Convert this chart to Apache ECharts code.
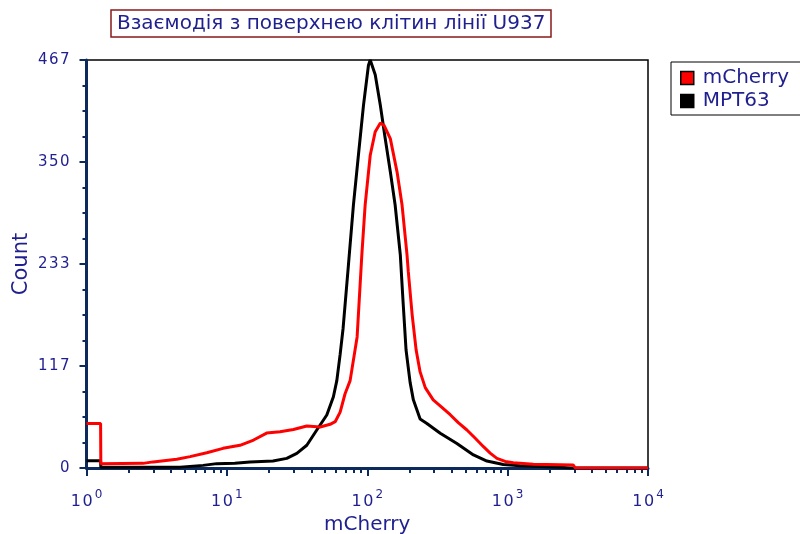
<!DOCTYPE html>
<html>
<head>
<meta charset="utf-8">
<script src="https://cdn.jsdelivr.net/npm/echarts@6/dist/echarts.min.js"></script>
<style>
  html, body { margin: 0; padding: 0; background: #fff; }
  #chart { width: 800px; height: 534px; }
</style>
</head>
<body>
<div id="chart"></div>
<script>
// Fluorescence histogram: channel values (mCherry intensity) and event counts
const titleText = 'Взаємодія з поверхнею клітин лінії U937';
const seriesNames = ['mCherry', 'MPT63'];

const mCherryX = [1, 1.26, 1.265, 2.53, 2.98, 4.40, 5.47, 7.19, 9.40, 12.4, 15.5, 19.2, 23.9, 29.8, 37.1, 46.2, 54.4, 59.1, 64.1, 69.5, 75.5, 84.7, 91.5, 96.6, 105, 114, 124, 132, 146, 163, 177, 192, 196, 209, 223, 238, 259, 295, 337, 390, 445, 513, 588, 673, 751, 839, 961, 1097, 1522, 2936, 3034, 10000];
const mCherryY = [51, 51, 5, 5.3, 7, 10, 13, 17.5, 22.5, 26, 32, 40, 41.5, 44, 48, 47, 50, 53, 64, 85, 100, 150, 244, 301, 358, 385, 395, 392, 377, 339, 301, 244, 225, 175, 135, 110, 92, 78, 70, 61, 52, 43.5, 34, 24.4, 17, 11, 7.5, 6, 4.2, 3.4, 0, 0];

const mpt63X = [1, 1.26, 1.265, 4.64, 6.77, 8.47, 11.4, 14.6, 21.3, 26.7, 31.5, 37.1, 43.7, 51.5, 57.4, 60.7, 64.1, 67.3, 73.4, 79.7, 86.5, 94.0, 102, 105, 114, 124, 134, 146, 158, 172, 180, 189, 202, 213, 238, 266, 331, 435, 571, 712, 931, 1230, 2371, 2790, 10000];
const mpt63Y = [8.4, 8.4, 1, 1, 3, 5, 5.5, 7, 8, 11, 16.8, 26, 43.5, 60.7, 81.6, 100, 130, 160, 232, 301, 358, 415, 461, 467, 450, 415, 378, 339, 301, 244, 190, 135, 98, 78, 56, 51, 39.7, 28, 15, 8, 4, 2.6, 1, 0, 0];

const yTickLabels = ['0', '117', '233', '350', '467'];
const yMax = 467;
const yInterval = yMax / 4;

// minor ticks at 2..9 within each decade (in log10 space)
const minorTickValues = [];
for (let d = 0; d < 4; d++) {
  for (let k = 2; k <= 9; k++) minorTickValues.push(Math.log10(k * Math.pow(10, d)));
}

const navyText = '#1f1f8f';
const axisNavy = '#0c2a5c';
const font = 'DejaVu Sans';
const spaced = s => String(s).split('').join('\u200A');

function toPairs(xs, ys) {
  return xs.map((x, i) => [Math.log10(x), ys[i]]);
}

const chart = echarts.init(document.getElementById('chart'), null, { renderer: 'canvas' });

chart.setOption({
  animation: false,
  backgroundColor: '#fff',
  title: {
    text: titleText,
    left: 111,
    top: 10,
    padding: [4, 6, 3, 6],
    borderColor: '#8b1a1a',
    borderWidth: 1.5,
    textStyle: { color: navyText, fontSize: 20, fontWeight: 'normal', fontFamily: font }
  },
  legend: {
    orient: 'vertical',
    left: 671,
    top: 62,
    padding: [6, 40, 4, 9],
    borderColor: '#000',
    borderWidth: 1,
    itemGap: 3,
    itemWidth: 13,
    itemHeight: 13,
    icon: 'rect',
    itemStyle: { borderColor: '#000', borderWidth: 1.5 },
    textStyle: { color: navyText, fontSize: 20, fontFamily: font, padding: [0, 0, 0, 4] },
    data: [seriesNames[0], seriesNames[1]]
  },
  grid: {
    left: 86.5,
    right: 152,
    top: 60,
    bottom: 66,
    outerBoundsMode: 'none',
    containLabel: false,
    show: true,
    borderColor: '#000',
    borderWidth: 1.5,
    backgroundColor: 'transparent'
  },
  xAxis: [
    {
      type: 'value',
      min: 0,
      max: 4,
      interval: 1,
      name: 'mCherry',
      nameLocation: 'middle',
      nameGap: 43,
      nameTextStyle: { color: navyText, fontSize: 20, fontFamily: font },
      axisLine: { show: true, lineStyle: { color: axisNavy, width: 3 } },
      axisTick: { show: true, inside: false, length: 8, lineStyle: { color: axisNavy, width: 2 } },
      axisLabel: {
        margin: 18,
        formatter: v => '{b|' + spaced('10') + '}{s|' + Math.round(v) + '}',
        rich: {
          b: { color: navyText, fontSize: 16, fontFamily: font, padding: [8, 0, 0, 0] },
          s: { color: navyText, fontSize: 12, fontFamily: font, padding: [0, 0, 6, 2] }
        }
      },
      splitLine: { show: false }
    },
    {
      type: 'value',
      min: 0,
      max: 4,
      position: 'bottom',
      axisLine: { show: false },
      axisLabel: { show: false },
      axisTick: {
        show: true,
        length: 5,
        customValues: minorTickValues,
        lineStyle: { color: axisNavy, width: 2 }
      },
      splitLine: { show: false }
    }
  ],
  yAxis: {
    type: 'value',
    min: 0,
    max: yMax,
    interval: yInterval,
    name: 'Count',
    nameLocation: 'middle',
    nameGap: 54,
    nameMoveOverlap: false,
    nameTextStyle: { color: navyText, fontSize: 21, fontFamily: font },
    axisLine: { show: true, lineStyle: { color: axisNavy, width: 3 } },
    axisTick: { show: true, length: 7, lineStyle: { color: axisNavy, width: 2 } },
    minorTick: { show: true, splitNumber: 4, length: 4, lineStyle: { color: axisNavy, width: 2 } },
    axisLabel: {
      color: navyText,
      fontSize: 15,
      fontFamily: font,
      margin: 17,
      formatter: v => spaced(yTickLabels[Math.round(v / yInterval)])
    },
    splitLine: { show: false },
    minorSplitLine: { show: false }
  },
  series: [
    {
      name: seriesNames[1],
      type: 'line',
      xAxisIndex: 0,
      data: toPairs(mpt63X, mpt63Y),
      showSymbol: false,
      color: '#000',
      lineStyle: { color: '#000', width: 3 },
      z: 2
    },
    {
      name: seriesNames[0],
      type: 'line',
      xAxisIndex: 0,
      data: toPairs(mCherryX, mCherryY),
      showSymbol: false,
      color: '#ff0000',
      lineStyle: { color: '#ff0000', width: 3 },
      z: 3
    }
  ]
});
</script>
</body>
</html>
